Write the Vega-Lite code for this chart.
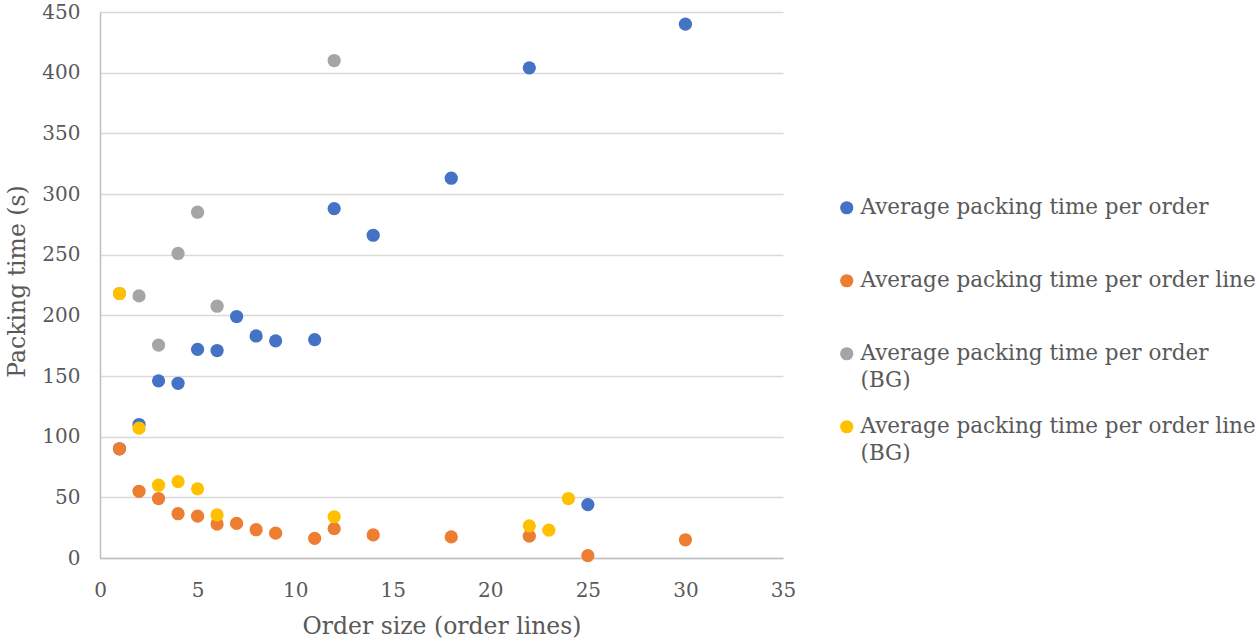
{
  "$schema": "https://vega.github.io/schema/vega-lite/v6.json",
  "width": 683,
  "height": 546,
  "autosize": {"type": "none"},
  "padding": {"left": 100, "top": 12, "right": 475, "bottom": 83},
  "background": "white",
  "config": {
    "view": {"stroke": null},
    "font": "DejaVu Serif"
  },
  "data": {
    "values": [
      {"lines": 1, "time": 90, "series": "Average packing time per order"},
      {"lines": 2, "time": 110, "series": "Average packing time per order"},
      {"lines": 3, "time": 146, "series": "Average packing time per order"},
      {"lines": 4, "time": 144, "series": "Average packing time per order"},
      {"lines": 5, "time": 172, "series": "Average packing time per order"},
      {"lines": 6, "time": 171, "series": "Average packing time per order"},
      {"lines": 7, "time": 199, "series": "Average packing time per order"},
      {"lines": 8, "time": 183, "series": "Average packing time per order"},
      {"lines": 9, "time": 179, "series": "Average packing time per order"},
      {"lines": 11, "time": 180, "series": "Average packing time per order"},
      {"lines": 12, "time": 288, "series": "Average packing time per order"},
      {"lines": 14, "time": 266, "series": "Average packing time per order"},
      {"lines": 18, "time": 313, "series": "Average packing time per order"},
      {"lines": 22, "time": 404, "series": "Average packing time per order"},
      {"lines": 25, "time": 44, "series": "Average packing time per order"},
      {"lines": 30, "time": 440, "series": "Average packing time per order"},

      {"lines": 1, "time": 90, "series": "Average packing time per order line"},
      {"lines": 2, "time": 55, "series": "Average packing time per order line"},
      {"lines": 3, "time": 49, "series": "Average packing time per order line"},
      {"lines": 4, "time": 36.5, "series": "Average packing time per order line"},
      {"lines": 5, "time": 34.5, "series": "Average packing time per order line"},
      {"lines": 6, "time": 28, "series": "Average packing time per order line"},
      {"lines": 7, "time": 28.5, "series": "Average packing time per order line"},
      {"lines": 8, "time": 23.3, "series": "Average packing time per order line"},
      {"lines": 9, "time": 20.5, "series": "Average packing time per order line"},
      {"lines": 11, "time": 16.2, "series": "Average packing time per order line"},
      {"lines": 12, "time": 24.2, "series": "Average packing time per order line"},
      {"lines": 14, "time": 19, "series": "Average packing time per order line"},
      {"lines": 18, "time": 17.4, "series": "Average packing time per order line"},
      {"lines": 22, "time": 18, "series": "Average packing time per order line"},
      {"lines": 25, "time": 2, "series": "Average packing time per order line"},
      {"lines": 30, "time": 15, "series": "Average packing time per order line"},

      {"lines": 1, "time": 218, "series": "Average packing time per order (BG)"},
      {"lines": 2, "time": 216, "series": "Average packing time per order (BG)"},
      {"lines": 3, "time": 175.5, "series": "Average packing time per order (BG)"},
      {"lines": 4, "time": 251, "series": "Average packing time per order (BG)"},
      {"lines": 5, "time": 285, "series": "Average packing time per order (BG)"},
      {"lines": 6, "time": 207.5, "series": "Average packing time per order (BG)"},
      {"lines": 12, "time": 410, "series": "Average packing time per order (BG)"},

      {"lines": 1, "time": 218, "series": "Average packing time per order line (BG)"},
      {"lines": 2, "time": 107, "series": "Average packing time per order line (BG)"},
      {"lines": 3, "time": 60, "series": "Average packing time per order line (BG)"},
      {"lines": 4, "time": 63, "series": "Average packing time per order line (BG)"},
      {"lines": 5, "time": 57, "series": "Average packing time per order line (BG)"},
      {"lines": 6, "time": 35.5, "series": "Average packing time per order line (BG)"},
      {"lines": 12, "time": 34, "series": "Average packing time per order line (BG)"},
      {"lines": 22, "time": 26.5, "series": "Average packing time per order line (BG)"},
      {"lines": 23, "time": 23, "series": "Average packing time per order line (BG)"},
      {"lines": 24, "time": 49, "series": "Average packing time per order line (BG)"}
    ]
  },
  "mark": {"type": "circle", "size": 175, "opacity": 1},
  "encoding": {
    "x": {
      "field": "lines",
      "type": "quantitative",
      "scale": {"domain": [0, 35], "nice": false, "zero": true},
      "axis": {
        "values": [0, 5, 10, 15, 20, 25, 30, 35],
        "grid": false,
        "ticks": false,
        "domainColor": "#BFBFBF",
        "domainWidth": 1.5,
        "labelFontSize": 20,
        "labelColor": "#595959",
        "labelPadding": 22,
        "labelFlush": false,
        "title": "Order size (order lines)",
        "titleFontSize": 23.5,
        "titleFontWeight": "normal",
        "titleColor": "#595959",
        "titlePadding": 14
      }
    },
    "y": {
      "field": "time",
      "type": "quantitative",
      "scale": {"domain": [0, 450], "nice": false},
      "axis": {
        "values": [0, 50, 100, 150, 200, 250, 300, 350, 400, 450],
        "grid": true,
        "gridColor": "#D9D9D9",
        "gridWidth": 1.5,
        "ticks": false,
        "domainColor": "#BFBFBF",
        "domainWidth": 1.5,
        "labelFontSize": 20,
        "labelColor": "#595959",
        "labelPadding": 20,
        "labelFlush": false,
        "title": "Packing time (s)",
        "titleFontSize": 23.5,
        "titleFontWeight": "normal",
        "titleColor": "#595959",
        "titlePadding": 12,
        "titleY": 269
      }
    },
    "color": {
      "field": "series",
      "type": "nominal",
      "sort": null,
      "scale": {
        "domain": [
          "Average packing time per order",
          "Average packing time per order line",
          "Average packing time per order (BG)",
          "Average packing time per order line (BG)"
        ],
        "range": ["#4472C4", "#ED7D31", "#A5A5A5", "#FFC000"]
      },
      "legend": {
        "orient": "none",
        "legendX": 736,
        "legendY": 185,
        "title": null,
        "padding": 0,
        "symbolType": "circle",
        "symbolSize": 175,
        "symbolStrokeWidth": 0,
        "symbolOpacity": 1,
        "labelFontSize": 21.5,
        "labelColor": "#595959",
        "labelOffset": 3,
        "labelLimit": 500,
        "labelBaseline": "top",
        "rowPadding": 23,
        "labelExpr": "datum.label == 'Average packing time per order (BG)' ? ['Average packing time per order', '(BG)'] : datum.label == 'Average packing time per order line (BG)' ? ['Average packing time per order line', '(BG)'] : [datum.label, '']",
        "encode": {
          "labels": {"update": {"dy": {"value": -11}, "lineHeight": {"value": 27}}}
        }
      }
    }
  }
}
